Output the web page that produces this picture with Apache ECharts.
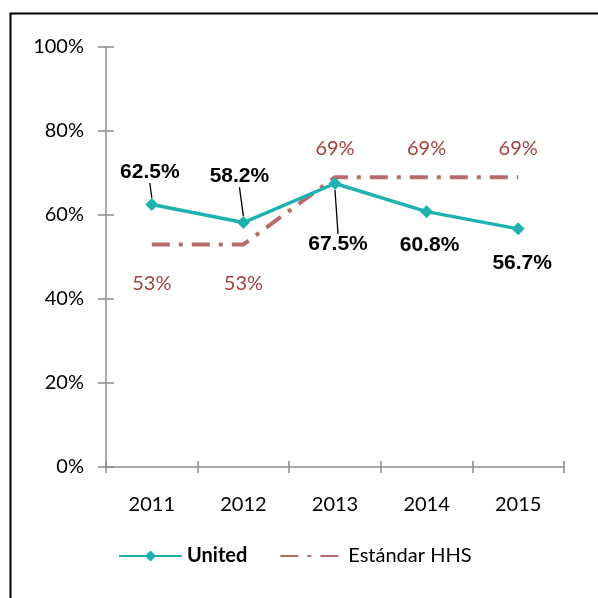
<!DOCTYPE html>
<html>
<head>
<meta charset="utf-8">
<script src="https://cdn.jsdelivr.net/npm/echarts@6/dist/echarts.min.js"></script>
<style>
  html, body { margin: 0; padding: 0; background: #fff; }
  #main { width: 598px; height: 598px; }
</style>
</head>
<body>
<div id="main"></div>
<script>
const years = ["2011", "2012", "2013", "2014", "2015"];
const united = [62.5, 58.2, 67.5, 60.8, 56.7];
const hhs = [53, 53, 69, 69, 69];
const yTicks = [0, 20, 40, 60, 80, 100];

// label offsets (px) for the United values, relative to each point
const unitedLabelShift = [[-2, -32], [-4, -46], [3, 61], [3, 34], [4, 34]];
const unitedLeader = [true, true, true, false, false];

const teal = "#1fb1af";
const hhsColor = "#b76c6b";
const hhsText = "#a2423f";

var myChart = echarts.init(document.getElementById("main"));

const options = {
  animation: false,
  graphic: [{
    type: "rect",
    left: 8, top: 11,
    shape: { width: 620, height: 620 },
    style: { fill: "none", stroke: "#000", lineWidth: 2 },
    silent: true
  }],
  grid: { left: 106, right: 34, top: 47, bottom: 131 },
  legend: {
    bottom: 27,
    left: 113,
    itemWidth: 63,
    itemHeight: 14,
    itemGap: 32,
    textStyle: { fontFamily: "Lato", fontSize: 20, color: "#000" },
    data: [
      { name: "United", textStyle: { fontWeight: "bold" } },
      { name: "Estándar HHS" }
    ]
  },
  xAxis: [{
    type: "category",
    data: years,
    boundaryGap: true,
    axisLine: { lineStyle: { color: "#8c8c8c", width: 1.5 } },
    axisTick: { show: true, length: 6, lineStyle: { color: "#8c8c8c", width: 1.5 } },
    axisLabel: { fontFamily: "Lato", fontSize: 20, color: "#000", margin: 28 }
  }, {
    type: "category",
    data: years,
    position: "bottom",
    boundaryGap: true,
    axisLine: { show: false },
    axisTick: { show: true, inside: true, length: 6, lineStyle: { color: "#8c8c8c", width: 1.5 } },
    axisLabel: { show: false }
  }],
  yAxis: [{
    type: "value",
    min: 0, max: 100, interval: 20,
    axisLine: { show: true, lineStyle: { color: "#8c8c8c", width: 1.5 } },
    axisTick: { show: true, length: 8, lineStyle: { color: "#8c8c8c", width: 1.5 } },
    splitLine: { show: false },
    axisLabel: {
      fontFamily: "Lato", fontSize: 20, color: "#000", margin: 22,
      formatter: (v) => yTicks.includes(v) ? v + "%" : ""
    }
  }, {
    type: "value",
    min: 0, max: 100, interval: 20,
    position: "left",
    axisLine: { show: false },
    axisTick: { show: true, inside: true, length: 8, lineStyle: { color: "#8c8c8c", width: 1.5 } },
    splitLine: { show: false },
    axisLabel: { show: false }
  }],
  series: [{
    name: "Estándar HHS",
    type: "line",
    data: hhs.map((v) => ({
      value: v,
      label: { offset: [0, v > 60 ? -29 : 39] }
    })),
    symbol: "circle",
    symbolSize: 1,
    showSymbol: true,
    lineStyle: { color: hhsColor, width: 4, type: [18, 9, 4, 9], cap: "butt" },
    itemStyle: { color: "rgba(0,0,0,0)" },
    label: {
      show: true,
      position: "inside",
      fontFamily: "Lato",
      fontSize: 20,
      color: hhsText,
      formatter: (p) => p.value + "%"
    },
    z: 2
  }, {
    name: "United",
    type: "line",
    data: united.map((v, i) => ({
      value: v,
      labelLine: { show: unitedLeader[i] }
    })),
    symbol: "diamond",
    symbolSize: 13,
    lineStyle: { color: teal, width: 3.5 },
    itemStyle: { color: teal },
    label: {
      show: true,
      position: "inside",
      fontFamily: "Liberation Sans",
      fontWeight: "bold",
      fontSize: 21,
      color: "#000",
      formatter: (p) => p.value.toFixed(1) + "%"
    },
    labelLine: { show: true, lineStyle: { color: "#000", width: 1.3 } },
    labelLayout: (p) => ({
      dx: unitedLabelShift[p.dataIndex][0],
      dy: unitedLabelShift[p.dataIndex][1]
    }),
    z: 3
  }]
};

myChart.setOption(options);
window.onresize = function() {
  myChart.resize();
};
</script>
</body>
</html>
